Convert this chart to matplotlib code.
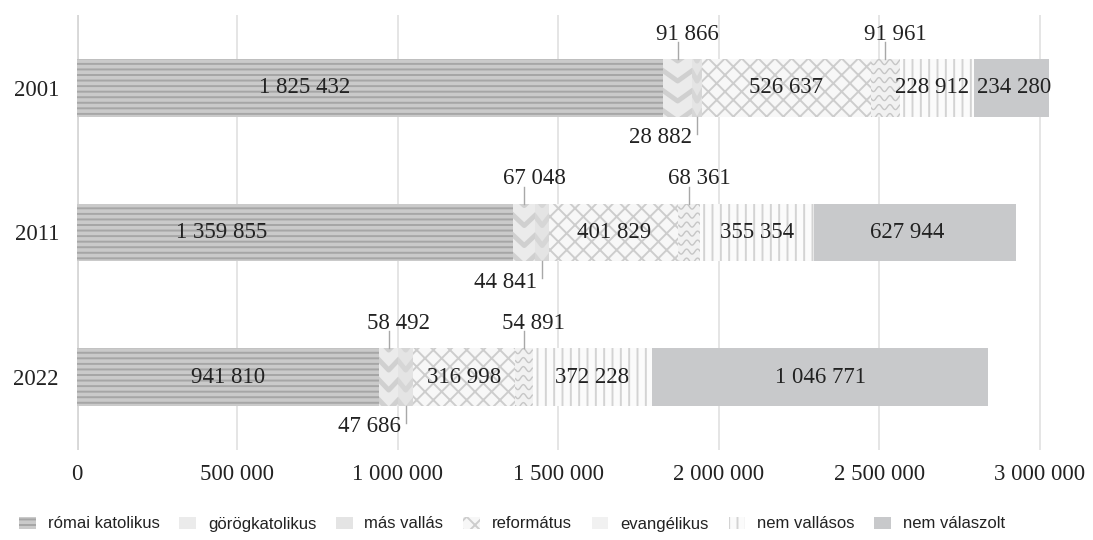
import numpy as np
import matplotlib
matplotlib.use('Agg')
import matplotlib.pyplot as plt

# ---------------- data ----------------
years = ['2001', '2011', '2022']
categories = ['római katolikus', 'görögkatolikus', 'más vallás', 'református',
              'evangélikus', 'nem vallásos', 'nem válaszolt']
romai_katolikus = [1825432, 1359855, 941810]
gorogkatolikus = [91866, 67048, 58492]
mas_vallas = [28882, 44841, 47686]
reformatus = [526637, 401829, 316998]
evangelikus = [91961, 68361, 54891]
nem_vallasos = [228912, 355354, 372228]
nem_valaszolt = [234280, 627944, 1046771]
xticks = [0, 500000, 1000000, 1500000, 2000000, 2500000, 3000000]

series = [romai_katolikus, gorogkatolikus, mas_vallas, reformatus,
          evangelikus, nem_vallasos, nem_valaszolt]

# ---------------- style ----------------
W, H = 1093, 540
SERIF = ['Liberation Serif', 'DejaVu Serif']
NARROW = ['Liberation Sans Narrow', 'Liberation Sans', 'DejaVu Sans']
FS = 16.5
plt.rcParams['hatch.linewidth'] = 1.4

face = ['#cacaca', '#ebebeb', '#e4e4e4', '#f7f7f7', '#f1f1f1', '#fbfbfb', '#c8c9cb']
hatchc = ['#a6a6a6', '#ebebeb', '#e4e4e4', '#cdcdcd', '#f1f1f1', '#d3d3d3', '#c8c9cb']
hatches = ['---', None, None, 'xx', None, '||', None]
label_pos = ['in', 'up', 'down', 'in', 'up', 'in', 'in']
# horizontal shift (pixels) of in-bar labels, per series, per year
in_shift = {0: [-65, -74, 0], 5: [-5, 0, 0], 6: [3, -8, 0]}

fig = plt.figure(figsize=(W / 100, H / 100), dpi=100)
ax_l, ax_r, ax_t, ax_b = 77, 1072, 15, 450
ax = fig.add_axes([ax_l / W, 1 - ax_b / H, (ax_r - ax_l) / W, (ax_b - ax_t) / H])
xmin, xmax = 0, 3100000
ymin, ymax = 2.505, -0.505
ax.set_xlim(xmin, xmax)
ax.set_ylim(ymin, ymax)
xpp = (xmax - xmin) / (ax_r - ax_l)
ypp = (ymin - ymax) / (ax_b - ax_t)

for s in ax.spines.values():
    s.set_visible(False)
ax.set_xticks(xticks)
ax.set_xticklabels([f"{v:,}".replace(',', ' ') for v in xticks])
ax.set_yticks(range(len(years)))
ax.set_yticklabels(years)
ax.tick_params(axis='both', length=0, labelsize=FS, colors='#222222')
ax.tick_params(axis='x', pad=10)
ax.tick_params(axis='y', pad=13)
for lab in ax.get_xticklabels() + ax.get_yticklabels():
    lab.set_family(SERIF)
ax.grid(axis='x', color='#dedede', lw=1.1)
ax.set_axisbelow(True)
ax.axvline(0, color='#cfcfcf', lw=2.6, zorder=0.5)

ypos = np.arange(len(years))
bh = 0.40
left = np.zeros(len(years))
containers = []
for i, vals in enumerate(series):
    bars = ax.barh(ypos, vals, left=left, height=bh, color=face[i],
                   edgecolor=hatchc[i], linewidth=0, hatch=hatches[i],
                   label=categories[i], zorder=2)
    containers.append(bars)
    left = left + np.array(vals)


def clip_lines(rect, xs_list, ys_list, color, lw):
    for xs, ys in zip(xs_list, ys_list):
        ln, = ax.plot(xs, ys, color=color, lw=lw, zorder=3, solid_capstyle='butt')
        ln.set_clip_path(rect)


# chevrons for görögkatolikus and más vallás
for idx, col in [(1, '#d0d0d0'), (2, '#d6d6d6')]:
    for rect in containers[idx]:
        x0, w = rect.get_x(), rect.get_width()
        y0, h = rect.get_y(), rect.get_height()
        xc = x0 + w / 2
        drop = 12 * ypp
        xs_l, ys_l = [], []
        yy = y0 - 10 * ypp
        while yy < y0 + h + 10 * ypp:
            xs_l.append([x0 - 2 * xpp, xc, x0 + w + 2 * xpp])
            ys_l.append([yy, yy + drop, yy])
            yy += 20 * ypp
        clip_lines(rect, xs_l, ys_l, col, 3.5)

# waves for evangélikus
for rect in containers[4]:
    x0, w = rect.get_x(), rect.get_width()
    y0, h = rect.get_y(), rect.get_height()
    t = np.linspace(x0, x0 + w, 80)
    xs_l, ys_l = [], []
    yy = y0 + 3 * ypp
    while yy < y0 + h:
        xs_l.append(t)
        ys_l.append(yy + 2.5 * ypp * np.sin((t - x0) / xpp * 2 * np.pi / 11))
        yy += 9 * ypp
    clip_lines(rect, xs_l, ys_l, '#c6c6c6', 1.0)

# value labels
fmt = lambda v: f"{v:,}".replace(',', ' ')
for i, bars in enumerate(containers):
    for j, rect in enumerate(bars):
        v = series[i][j]
        xm = rect.get_x() + rect.get_width() / 2
        yc = rect.get_y() + rect.get_height() / 2
        top = rect.get_y()
        bot = rect.get_y() + rect.get_height()
        kw = dict(fontsize=FS, family=SERIF, color='#222222', zorder=5)
        if label_pos[i] == 'in':
            dx = in_shift.get(i, [0, 0, 0])[j]
            ax.annotate(fmt(v), (xm, yc), xytext=(dx, 0), textcoords='offset pixels',
                        ha='center', va='center', **kw)
        elif label_pos[i] == 'up':
            ax.plot([xm, xm], [top, top - 17 * ypp], color='#a8a8a8', lw=1.0, zorder=4)
            ax.annotate(fmt(v), (xm, top), xytext=(10, 25), textcoords='offset pixels',
                        ha='center', va='center', **kw)
        else:
            ax.plot([xm, xm], [bot, bot + 17 * ypp], color='#a8a8a8', lw=1.0, zorder=4)
            ax.annotate(fmt(v), (xm, bot), xytext=(-5, -21), textcoords='offset pixels',
                        ha='right', va='center', **kw)

leg = fig.legend(handles=containers, labels=categories, loc='center',
                 bbox_to_anchor=(512 / W, 1 - 524 / H), ncol=7, frameon=False,
                 prop={'family': NARROW, 'size': 12}, handlelength=1.0,
                 handleheight=0.75, handletextpad=0.7, columnspacing=1.2,
                 labelcolor='#222222')

fig.savefig('out.png', dpi=100)
